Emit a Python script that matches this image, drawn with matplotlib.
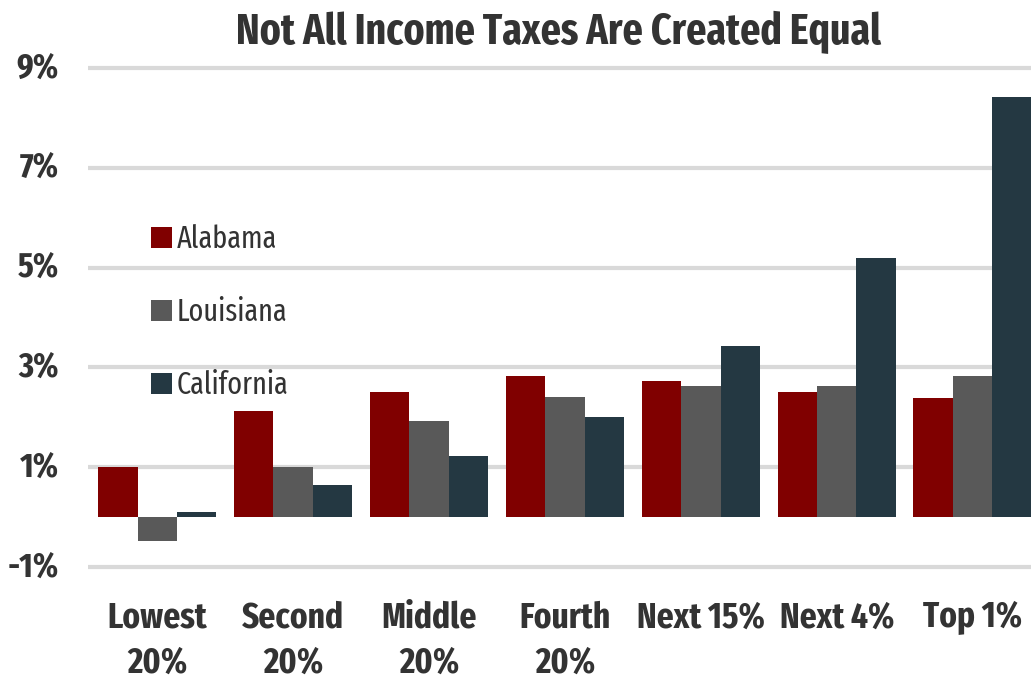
import matplotlib
matplotlib.use("Agg")
import matplotlib.pyplot as plt
import numpy as np

# data (% of income)
groups = ["Lowest\n20%", "Second\n20%", "Middle\n20%", "Fourth\n20%",
          "Next 15%", "Next 4%", "Top 1%"]
alabama = [1.0, 2.13, 2.5, 2.83, 2.72, 2.5, 2.39]
louisiana = [-0.48, 1.0, 1.92, 2.4, 2.62, 2.62, 2.82]
california = [0.1, 0.64, 1.22, 2.01, 3.42, 5.19, 8.41]
yticks = [-1, 1, 3, 5, 7, 9]

colors = {"Alabama": "#800000", "Louisiana": "#595959", "California": "#243842"}
txt = "#333333"
# condensed humanist font, close to the original
fam = ["Fira Sans Extra Condensed", "Fira Sans Condensed", "PT Sans Narrow", "DejaVu Sans"]

fig = plt.figure(figsize=(10.31, 6.79), dpi=100)
ax = fig.add_axes([88 / 1031, 1 - 572 / 679, 1 - 88 / 1031, 509 / 679])

x = np.arange(len(groups))
w = 0.29
series = [("Alabama", alabama), ("Louisiana", louisiana), ("California", california)]
for i, (name, vals) in enumerate(series):
    ax.bar(x + (i - 1) * w, vals, w, color=colors[name], label=name, zorder=3, linewidth=0)

for t in yticks:
    ax.axhline(t, color="#d9d9d9", lw=3, solid_capstyle="round", zorder=1)

ax.set_xlim(-0.51, 6.43)
ax.set_ylim(-1.1, 9.1)
ax.set_yticks(yticks)
ax.set_yticklabels([f"{t}%" for t in yticks], fontsize=25, fontweight="bold",
                   color=txt, family=fam, va="center")
ax.set_xticks(x)
ax.set_xticklabels(groups, fontsize=26, fontweight="bold", color=txt,
                   family=fam, linespacing=1.35)
ax.tick_params(axis="both", length=0)
ax.tick_params(axis="y", pad=21)
ax.tick_params(axis="x", pad=20)
for s in ax.spines.values():
    s.set_visible(False)

fig.text(559 / 1031, 1 - 44 / 679, "Not All Income Taxes Are Created Equal", ha="center",
         va="baseline", fontsize=31, fontweight="bold", color=txt, family=fam)

leg = ax.legend(loc="upper left", bbox_to_anchor=(151 / 1031, 1 - 224 / 679),
                bbox_transform=fig.transFigure, frameon=False, borderpad=0,
                borderaxespad=0, handlelength=0.7, handleheight=0.7,
                handletextpad=0.15, labelspacing=1.4,
                prop={"family": fam, "size": 22})
for t in leg.get_texts():
    t.set_color(txt)

fig.savefig("out.png", dpi=100)
